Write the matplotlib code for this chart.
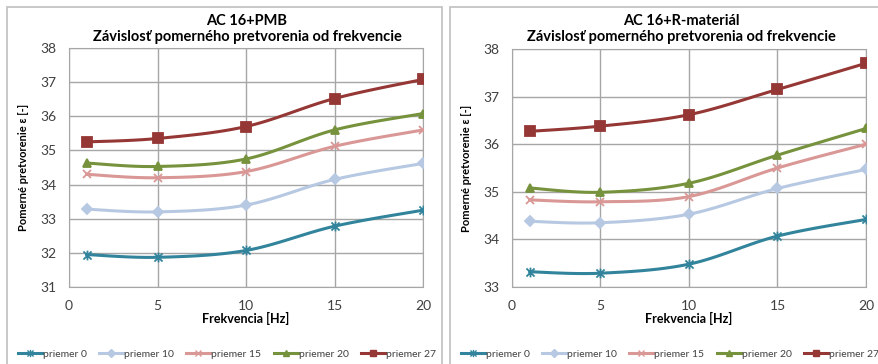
import matplotlib.pyplot as plt
from matplotlib.patches import Rectangle
from matplotlib.lines import Line2D
from matplotlib.path import Path
import numpy as np

# frequency of the test [Hz]
freq = [1, 5, 10, 15, 20]
series_names = ['priemer 0', 'priemer 10', 'priemer 15', 'priemer 20', 'priemer 27']

# AC 16+PMB
pmb_0 = [31.95, 31.87, 32.07, 32.78, 33.25]
pmb_10 = [33.28, 33.20, 33.40, 34.15, 34.62]
pmb_15 = [34.30, 34.20, 34.38, 35.12, 35.60]
pmb_20 = [34.63, 34.53, 34.75, 35.60, 36.08]
pmb_27 = [35.25, 35.35, 35.70, 36.52, 37.08]

# AC 16+R-materiál
rmat_0 = [33.32, 33.29, 33.48, 34.07, 34.42]
rmat_10 = [34.38, 34.35, 34.53, 35.07, 35.47]
rmat_15 = [34.83, 34.79, 34.90, 35.50, 36.00]
rmat_20 = [35.08, 34.99, 35.18, 35.77, 36.33]
rmat_27 = [36.27, 36.38, 36.62, 37.15, 37.70]

# star marker: an "x" crossed by a vertical stroke
star = Path([(-1, -1), (1, 1), (-1, 1), (1, -1), (0, -1.2), (0, 1.2)],
            [Path.MOVETO, Path.LINETO] * 3)

colors = ['#31849B', '#B7C9E2', '#D99795', '#76923C', '#953735']
markers = [star, 'D', 'x', '^', 's']
msizes = [7, 5, 6, 6, 6.5]

W, H = 879, 364
plt.rcParams['font.family'] = ['Lato', 'DejaVu Sans']


def smooth(x, y, n=30):
    # Catmull-Rom curve through the points (like a smoothed line in a spreadsheet)
    x = np.asarray(x, float)
    y = np.asarray(y, float)
    px = np.concatenate([[x[0]], x, [x[-1]]])
    py = np.concatenate([[y[0]], y, [y[-1]]])
    xs, ys = [], []
    t = np.linspace(0, 1, n)
    for i in range(1, len(px) - 2):
        for arr, out in ((px, xs), (py, ys)):
            p0, p1, p2, p3 = arr[i - 1], arr[i], arr[i + 1], arr[i + 2]
            out.extend(0.5 * ((2 * p1) + (-p0 + p2) * t
                              + (2 * p0 - 5 * p1 + 4 * p2 - p3) * t ** 2
                              + (-p0 + 3 * p1 - 3 * p2 + p3) * t ** 3))
    return xs, ys


def px_axes(fig, x0, y0, x1, y1):
    return fig.add_axes([x0 / W, 1 - y1 / H, (x1 - x0) / W, (y1 - y0) / H])


def draw_panel(ax, data, ylim, title, title_x):
    for vals, c, m, ms in zip(data, colors, markers, msizes):
        sx, sy = smooth(freq, vals)
        ax.plot(sx, sy, color=c, lw=2.2, zorder=3)
        ax.plot(freq, vals, ls='none', marker=m, ms=ms, color=c, mec=c,
                mew=1.3, zorder=4)
    ax.set_xlim(0, 20)
    ax.set_ylim(*ylim)
    ax.set_xticks([0, 5, 10, 15, 20])
    ax.set_yticks(np.arange(ylim[0], ylim[1] + 1))
    ax.grid(True, color='#A6A6A6', lw=1)
    ax.set_axisbelow(True)
    for s in ax.spines.values():
        s.set_color('#A6A6A6')
    ax.tick_params(length=0, labelsize=10, colors='#404040', pad=9)
    ax.set_xlabel('Frekvencia [Hz]', fontsize=9, fontweight='bold', labelpad=0)
    ax.set_ylabel('Pomerné pretvorenie ε [-]', fontsize=8, fontweight='bold', labelpad=8)
    fig.text(title_x / W, 1 - 29 / H, title, ha='center', va='center',
             fontsize=10.5, fontweight='bold', linespacing=1.25)


fig = plt.figure(figsize=(W / 100, H / 100), dpi=100)

# chart frames
for fx0, fx1 in ((7, 442), (450, 885)):
    fig.patches.append(Rectangle((fx0 / W, -0.1), (fx1 - fx0) / W, 1.1 - 7 / H,
                                 transform=fig.transFigure, fill=False,
                                 ec='#BFBFBF', lw=1.2))

ax1 = px_axes(fig, 69, 48, 423, 287)
draw_panel(ax1, [pmb_0, pmb_10, pmb_15, pmb_20, pmb_27], (31, 38),
           'AC 16+PMB\nZávislosť pomerného pretvorenia od frekvencie', 247)

ax2 = px_axes(fig, 512, 49, 866, 287)
draw_panel(ax2, [rmat_0, rmat_10, rmat_15, rmat_20, rmat_27], (33, 38),
           'AC 16+R-materiál\nZávislosť pomerného pretvorenia od frekvencie', 681)

handles = [Line2D([], [], color=c, lw=2.2, marker=m, ms=ms * 0.75, mec=c, mew=1)
           for c, m, ms in zip(colors, markers, msizes)]
for cx in (227, 670):
    fig.legend(handles, series_names, loc='center', ncol=5,
               bbox_to_anchor=(cx / W, 1 - 354 / H), frameon=False,
               fontsize=7.5, handlelength=2.3, handletextpad=0.1,
               columnspacing=1.2, labelcolor='#404040')

fig.savefig('out.png', dpi=100)
